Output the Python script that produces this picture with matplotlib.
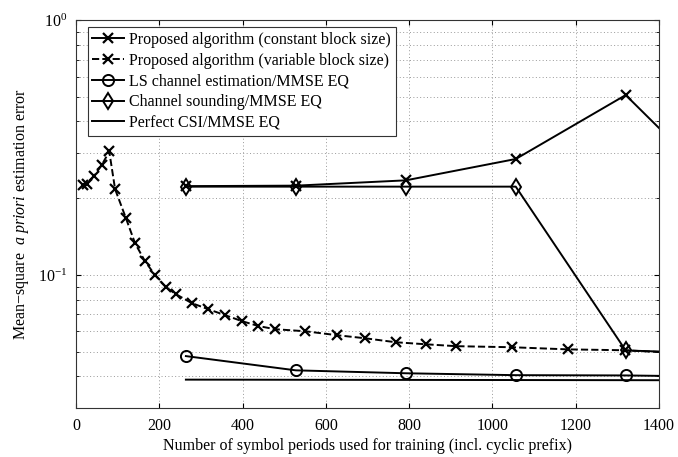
import matplotlib
matplotlib.use('Agg')
import matplotlib.pyplot as plt
import numpy as np

plt.rcParams['font.family'] = ['Liberation Serif', 'DejaVu Serif']
plt.rcParams['mathtext.fontset'] = 'custom'
plt.rcParams['mathtext.rm'] = 'Liberation Serif'
plt.rcParams['mathtext.it'] = 'Liberation Serif:italic'

# constant block size (x markers, solid)
const_x = [264, 528, 792, 1056, 1320, 1584]
const_y = [0.223, 0.224, 0.235, 0.285, 0.508, 0.19]

# variable block size (x markers, dashed)
var_x = [16, 27, 44, 62, 80, 94, 120, 142, 166, 190, 216, 240, 278, 318, 358,
         399, 438, 478, 550, 626, 694, 768, 841, 913, 1047, 1182, 1318, 1450]
var_y = [0.225, 0.228, 0.245, 0.27, 0.305, 0.217, 0.167, 0.133, 0.113, 0.0998,
         0.0895, 0.084, 0.0775, 0.0733, 0.0695, 0.0658, 0.063, 0.0612, 0.0601,
         0.058, 0.0564, 0.0544, 0.0534, 0.0525, 0.052, 0.051, 0.0506, 0.0493]

# LS channel estimation / MMSE EQ
ls_x = [264, 528, 792, 1056, 1320, 1584]
ls_y = [0.048, 0.0422, 0.0411, 0.0404, 0.0403, 0.0398]

# channel sounding / MMSE EQ
cs_x = [264, 528, 792, 1056, 1320, 1584]
cs_y = [0.222, 0.222, 0.222, 0.222, 0.0505, 0.049]

# perfect CSI / MMSE EQ
csi_x = [264, 1400]
csi_y = [0.0388, 0.0386]

fs = 11.5

fig = plt.figure(figsize=(6.78, 4.57), dpi=100, facecolor='white')
ax = fig.add_axes([0.112, 0.107, 0.86, 0.849])

ax.semilogy(const_x, const_y, 'k-x', lw=1.4, ms=7, mew=1.6,
            label='Proposed algorithm (constant block size)')
ax.semilogy(var_x, var_y, 'k--x', lw=1.4, ms=7, mew=1.6,
            label='Proposed algorithm (variable block size)')
ax.semilogy(ls_x, ls_y, 'k-o', lw=1.4, ms=8, mfc='none', mew=1.4,
            label='LS channel estimation/MMSE EQ')
ax.semilogy(cs_x, cs_y, 'k-d', lw=1.4, ms=8, mfc='none', mew=1.4,
            label='Channel sounding/MMSE EQ')
ax.semilogy(csi_x, csi_y, 'k-', lw=1.4, label='Perfect CSI/MMSE EQ')

ax.set_xlim(0, 1400)
ax.set_ylim(0.03, 1)
ax.set_xticks(np.arange(0, 1401, 200))
ax.grid(True, which='major', ls=(0, (1, 2.5)), color='#999999', lw=0.7)
ax.grid(True, which='minor', axis='y', ls=(0, (1, 2.5)), color='#999999', lw=0.7)
ax.tick_params(which='both', direction='in', top=True, right=True, labelsize=fs)
ax.tick_params(axis='x', pad=7)
ax.tick_params(axis='y', pad=6)
for s in ax.spines.values():
    s.set_linewidth(0.8)
    s.set_color('#333333')

ax.set_xlabel('Number of symbol periods used for training (incl. cyclic prefix)',
              fontsize=fs, labelpad=3)
ax.set_ylabel(r'Mean$-$square  $\it{a\ priori}$ estimation error', fontsize=fs, labelpad=5)

leg = ax.legend(loc='upper left', bbox_to_anchor=(0.02, 0.982), fontsize=fs,
                fancybox=False, framealpha=1, edgecolor='#333333',
                handlelength=2.0, borderaxespad=0, labelspacing=0.3,
                handletextpad=0.3, borderpad=0.3)
leg.get_frame().set_linewidth(0.8)

plt.savefig('out.png', dpi=100)
